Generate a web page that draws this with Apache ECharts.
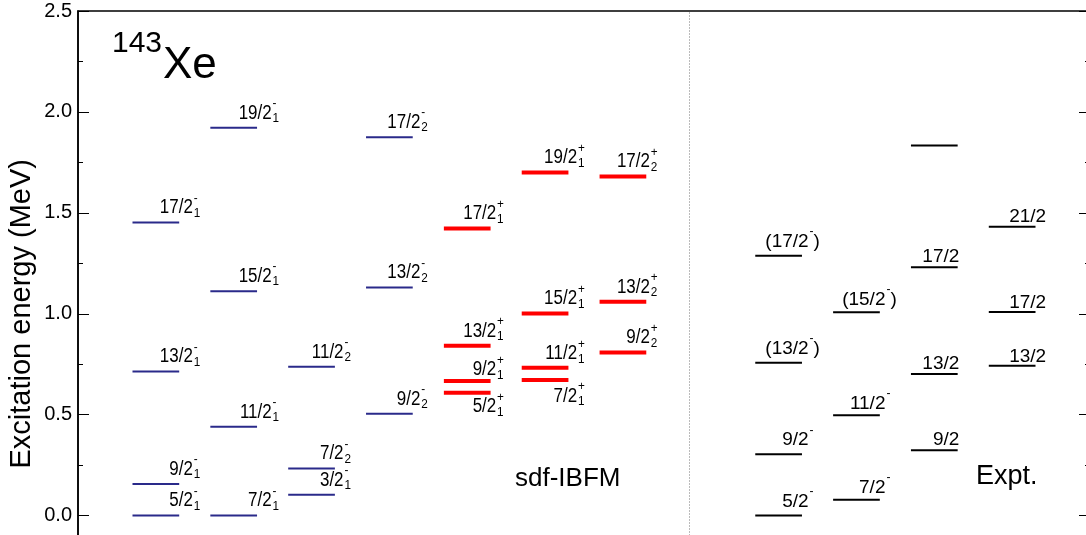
<!DOCTYPE html>
<html><head><meta charset="utf-8">
<script src="https://cdn.jsdelivr.net/npm/echarts@6/dist/echarts.min.js"></script>
<style>html,body{margin:0;padding:0;background:#fff}#c{width:1086px;height:535px}</style>
</head><body><div id="c"></div>
<script>
// ---------------- DATA ----------------
// sdf-IBFM, negative parity (column, energy MeV, J, state index)
const thNegCol = [1, 1, 1, 1, 2, 2, 2, 2, 3, 3, 3, 4, 4, 4];
const thNegE   = [0.000, 0.157, 0.714, 1.452, 0.000, 0.440, 1.112, 1.921, 0.103, 0.233, 0.737, 0.505, 1.130, 1.875];
const thNegJ   = ['5/2', '9/2', '13/2', '17/2', '7/2', '11/2', '15/2', '19/2', '3/2', '7/2', '11/2', '9/2', '13/2', '17/2'];
const thNegIdx = [1, 1, 1, 1, 1, 1, 1, 1, 1, 2, 2, 2, 2, 2];
// sdf-IBFM, positive parity
const thPosCol = [5, 5, 5, 5, 6, 6, 6, 6, 7, 7, 7];
const thPosE   = [0.608, 0.667, 0.841, 1.422, 0.672, 0.732, 1.001, 1.700, 0.808, 1.059, 1.680];
const thPosJ   = ['5/2', '9/2', '13/2', '17/2', '7/2', '11/2', '15/2', '19/2', '9/2', '13/2', '17/2'];
const thPosIdx = [1, 1, 1, 1, 1, 1, 1, 1, 2, 2, 2];
// Experiment
const expCol = [9, 9, 9, 9, 10, 10, 10, 11, 11, 11, 11, 12, 12, 12];
const expE   = [0.000, 0.304, 0.757, 1.287, 0.079, 0.497, 1.008, 0.324, 0.702, 1.231, 1.833, 0.742, 1.009, 1.431];
const expJ   = ['5/2-', '9/2-', '(13/2-)', '(17/2-)', '7/2-', '11/2-', '(15/2-)', '9/2', '13/2', '17/2', '', '13/2', '17/2', '21/2'];
// Axis
const yTicks = [0.0, 0.5, 1.0, 1.5, 2.0, 2.5];
const nucleusMass = '143';
const nucleusName = 'Xe';
const modelName = 'sdf-IBFM';
const exptName = 'Expt.';
const yTitle = 'Excitation energy (MeV)';

// ---------------- LAYOUT / STYLE ----------------
const FONT = "'Liberation Sans', Arial, Helvetica, sans-serif";
const halfW = 0.3;
const thOffset = {1: 37, 2: 38, 3: 32, 4: 31, 5: 29, 6: 32, 7: 27};
const expOffset = {9: 30, 10: 29, 11: 25, 12: 34};
const expDy = {9: 14, 10: 12, 11: 10, 12: 9.5};
const posDyLayout = [-14, 11, 14.5, 14.5, -16.5, 14, 14.5, 14.5, 14.5, 14.5, 14.5];
const sepX = 7.85;

function txt(text, x, y, align, size) {
  return {type: 'text', silent: true, style: {text: text, x: x, y: y, font: size + 'px ' + FONT,
    fill: '#000', align: align, textAlign: align, verticalAlign: 'middle', textVerticalAlign: 'middle'}};
}

function levelLine(api, x, e, color, width) {
  const a = api.coord([x - halfW, e]), b = api.coord([x + halfW, e]);
  return {el: {type: 'line', shape: {x1: a[0], y1: a[1], x2: b[0], y2: b[1]},
    style: {stroke: color, lineWidth: width}}, cx: api.coord([x, e])[0], y: a[1]};
}

function renderTheory(Js, Idx, parity, color, width, dyFn) {
  return function (params, api) {
    const x = api.value(0), e = api.value(1), k = api.value(2);
    const L = levelLine(api, x, e, color, width);
    const dy = dyFn(k);
    const g = {type: 'group', x: L.cx + thOffset[x], y: L.y - dy, scaleX: 0.87, children: [
      txt(Js[k], 0, 0, 'right', 19.5),
      txt(parity, 1, -10, 'left', 13.5),
      txt(String(Idx[k]), 1, 5, 'left', 13.5)
    ]};
    return {type: 'group', children: [L.el, g]};
  };
}

function renderExp(params, api) {
  const x = api.value(0), e = api.value(1), k = api.value(2);
  const L = levelLine(api, x, e, '#000', 2);
  const children = [L.el];
  let s = expJ[k];
  if (s) {
    let close = '';
    let sup = '';
    if (s.endsWith(')')) { close = ')'; s = s.slice(0, -1); }
    if (s.endsWith('-')) { sup = '-'; s = s.slice(0, -1); }
    const ax = L.cx + expOffset[x], ay = L.y - expDy[x];
    children.push(txt(s, ax, ay, 'right', 19));
    if (sup) children.push(txt(sup, ax + 1, ay - 10, 'left', 12));
    if (close) children.push(txt(close, ax + 5, ay, 'left', 19));
  }
  return {type: 'group', children: children};
}

const negData = thNegCol.map((c, i) => [c, thNegE[i], i]);
const posData = thPosCol.map((c, i) => [c, thPosE[i], i]);
const expData = expCol.map((c, i) => [c, expE[i], i]);

const yAxisBase = {
  type: 'value', min: -0.5, max: 2.5, interval: 0.5,
  splitLine: {show: false}, minorSplitLine: {show: false},
  minorTick: {show: true, splitNumber: 2, length: 5, lineStyle: {color: '#000', width: 1}},
  axisTick: {show: true, inside: true, length: 11, lineStyle: {color: '#000', width: 1}}
};

const chart = echarts.init(document.getElementById('c'), null, {renderer: 'canvas'});
chart.setOption({
  animation: false,
  backgroundColor: '#fff',
  textStyle: {fontFamily: FONT},
  grid: {left: 78, right: -4, top: 11, bottom: -81.5, show: true, borderColor: '#000', borderWidth: 1.5,
    containLabel: false, outerBoundsMode: 'none'},
  xAxis: {type: 'value', min: 0, max: 13, show: false},
  yAxis: [
    Object.assign({}, yAxisBase, {
      position: 'left',
      axisLine: {show: true, onZero: false, lineStyle: {color: '#000', width: 1.5}},
      axisLabel: {show: true, fontSize: 20, color: '#000', margin: 6, fontFamily: FONT,
        formatter: v => (yTicks.some(t => Math.abs(t - v) < 1e-6) ? v.toFixed(1) : '')},
      name: yTitle, nameLocation: 'middle', nameGap: 42, nameMoveOverlap: false,
      nameTextStyle: {fontSize: 29, color: '#000', fontFamily: FONT}
    }),
    Object.assign({}, yAxisBase, {
      position: 'right',
      axisLine: {show: true, onZero: false, lineStyle: {color: '#000', width: 1.5}},
      axisLabel: {show: false}
    })
  ],
  series: [
    {type: 'line', data: [], silent: true,
      markLine: {silent: true, symbol: 'none', label: {show: false}, animation: false,
        lineStyle: {type: [1, 2], color: '#777', width: 1},
        data: [{xAxis: sepX}]}},
    {type: 'custom', name: 'neg', data: negData, encode: {x: 0, y: 1},
      renderItem: renderTheory(thNegJ, thNegIdx, '-', '#2a2a8a', 2, k => 14.5)},
    {type: 'custom', name: 'pos', data: posData, encode: {x: 0, y: 1},
      renderItem: renderTheory(thPosJ, thPosIdx, '+', '#ff0000', 4, k => posDyLayout[k])},
    {type: 'custom', name: 'exp', data: expData, encode: {x: 0, y: 1}, renderItem: renderExp}
  ],
  graphic: [
    {type: 'text', x: 112, y: 44, silent: true, style: {text: nucleusMass, font: '30px ' + FONT, fill: '#000',
      align: 'left', textAlign: 'left', verticalAlign: 'middle', textVerticalAlign: 'middle'}},
    {type: 'text', x: 163, y: 66, silent: true, style: {text: nucleusName, font: '44px ' + FONT, fill: '#000',
      align: 'left', textAlign: 'left', verticalAlign: 'middle', textVerticalAlign: 'middle'}},
    {type: 'text', x: 515, y: 478.5, silent: true, style: {text: modelName, font: '26px ' + FONT, fill: '#000',
      align: 'left', textAlign: 'left', verticalAlign: 'middle', textVerticalAlign: 'middle'}},
    {type: 'text', x: 976, y: 477, silent: true, style: {text: exptName, font: '27px ' + FONT, fill: '#000',
      align: 'left', textAlign: 'left', verticalAlign: 'middle', textVerticalAlign: 'middle'}}
  ]
});
</script></body></html>
